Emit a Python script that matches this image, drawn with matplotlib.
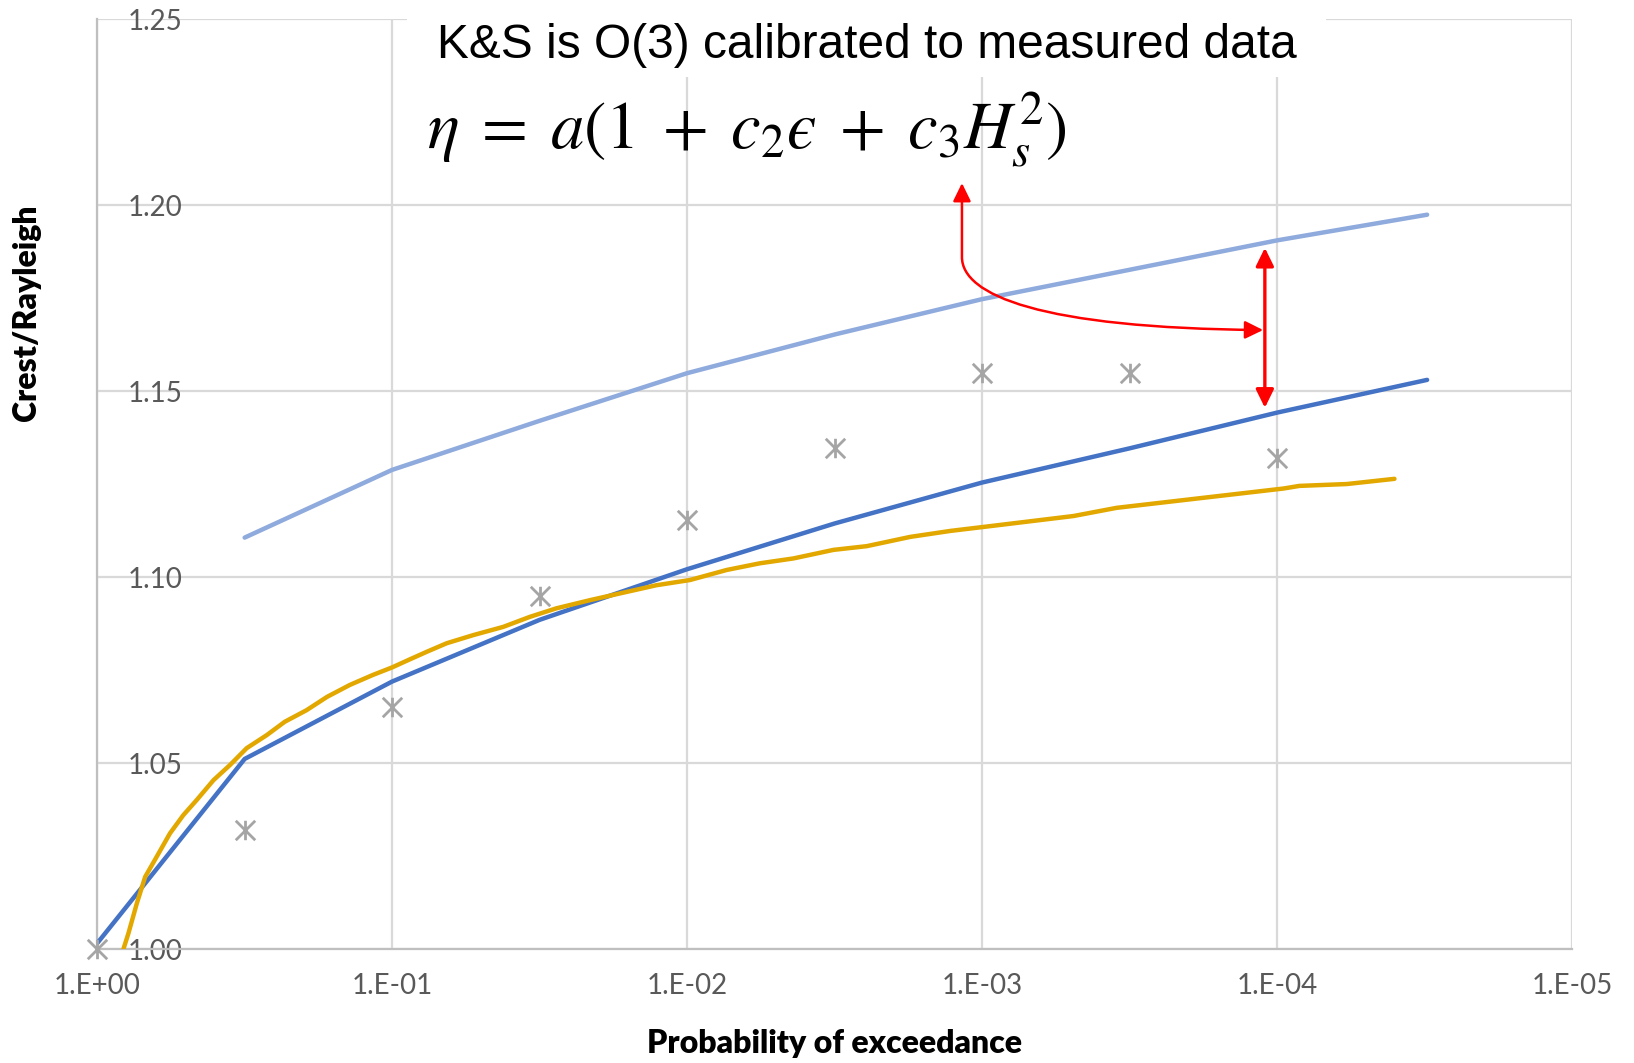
import numpy as np
import matplotlib
matplotlib.use("Agg")
import matplotlib.pyplot as plt
from matplotlib.path import Path
from matplotlib.patches import FancyArrowPatch, Rectangle
from matplotlib.ticker import FixedLocator, FuncFormatter, NullLocator

plt.rcParams['mathtext.fontset'] = 'stix'

# probability of exceedance (half decades) for the model curves / measured points
p_half = [1.0, 3.16e-1, 1e-1, 3.16e-2, 1e-2, 3.16e-3, 1e-3, 3.16e-4, 1e-4, 3.1e-5]

# upper (light blue) curve, starts at 10^-0.5
upper_p = p_half[1:]
upper_v = [1.1106, 1.1288, 1.1420, 1.1548, 1.1652, 1.1747, 1.1826, 1.1905, 1.1974]

# K&S calibrated (dark blue)
ks_p = p_half
ks_v = [1.0015, 1.0511, 1.0719, 1.0885, 1.1021, 1.1144, 1.1254, 1.1346, 1.1442, 1.1530]

# measured distribution (gold)
meas_p = [0.814, 0.783, 0.733, 0.687, 0.628, 0.566, 0.510, 0.459, 0.403, 0.354,
          0.311, 0.266, 0.231, 0.195, 0.166, 0.139, 0.116, 0.100, 0.0869, 0.0763,
          0.0653, 0.0530, 0.0420, 0.0341, 0.0277, 0.0213, 0.0127, 0.00977, 0.00734,
          0.00566, 0.00436, 0.00319, 0.00246, 0.00175, 0.00128, 0.00087, 0.00049,
          0.00035, 9.5e-5, 8.4e-5, 5.8e-5, 4.0e-5]
meas_v = [1.000, 1.0042, 1.0123, 1.0194, 1.0248, 1.0311, 1.0360, 1.0401, 1.0454, 1.0495,
          1.0540, 1.0575, 1.0611, 1.0642, 1.0678, 1.0710, 1.0737, 1.0757, 1.0779, 1.0799,
          1.0822, 1.0844, 1.0866, 1.0893, 1.0916, 1.0938, 1.0978, 1.0992, 1.1019,
          1.1037, 1.1050, 1.1073, 1.1083, 1.1108, 1.1124, 1.1140, 1.1164,
          1.1186, 1.1238, 1.1245, 1.1250, 1.1264]

# scatter points (grey stars)
pts_p = p_half[:-1]
pts_v = [1.000, 1.032, 1.065, 1.095, 1.1153, 1.1346, 1.1548, 1.1548, 1.1319]

x_ticks = [1, 1e-1, 1e-2, 1e-3, 1e-4, 1e-5]
y_ticks = [1.00, 1.05, 1.10, 1.15, 1.20, 1.25]

fig = plt.figure(figsize=(16.34, 10.63), dpi=100)
ax = fig.add_axes([0.0594, 0.1072, 0.9027, 0.8749])

ax.set_xscale('log')
ax.set_xlim(1, 1e-5)
ax.set_ylim(1.0, 1.25)

ax.plot(upper_p, upper_v, color='#8FAADC', lw=3.2, solid_capstyle='round', zorder=3)
ax.plot(ks_p, ks_v, color='#4472C4', lw=3.2, solid_capstyle='round', zorder=3)
ax.plot(meas_p, meas_v, color='#E2A800', lw=3.2, solid_capstyle='round', zorder=4)

star = Path([(-1, -1), (1, 1), (-1, 1), (1, -1), (0, -1), (0, 1)],
            [Path.MOVETO, Path.LINETO, Path.MOVETO, Path.LINETO, Path.MOVETO, Path.LINETO])
ax.plot(pts_p, pts_v, ls='none', marker=star, ms=14, mew=2.0, color='#A5A5A5',
        clip_on=False, zorder=5)

# axes styling
ax.xaxis.set_major_locator(FixedLocator(x_ticks))
ax.xaxis.set_minor_locator(NullLocator())
ax.xaxis.set_major_formatter(FuncFormatter(lambda v, pos: "1.E%+03d" % int(round(np.log10(v)))))
ax.set_yticks(y_ticks)
ax.yaxis.set_major_formatter(FuncFormatter(lambda v, pos: "%.2f" % v))
ax.grid(True, color='#D9D9D9', lw=1.6)
ax.set_axisbelow(True)
for s in ['top', 'right']:
    ax.spines[s].set_visible(False)
for s in ['left', 'bottom']:
    ax.spines[s].set_color('#BFBFBF')
    ax.spines[s].set_linewidth(1.6)

ax.tick_params(axis='x', length=0, pad=17, labelsize=20, labelcolor='#595959')
ax.tick_params(axis='y', length=0, pad=-22, labelsize=20, labelcolor='#595959')
for lab in ax.get_xticklabels() + ax.get_yticklabels():
    lab.set_family('Lato')
for lab in ax.get_yticklabels():
    lab.set_horizontalalignment('left')
    lab.set_zorder(2)

ax.set_xlabel('Probability of exceedance', fontsize=23, fontweight='heavy', family='Lato')
ax.xaxis.set_label_coords(0.5, -0.102)
ax.xaxis.label.set_va('center')
ax.set_ylabel('Crest/Rayleigh', fontsize=23, fontweight='heavy', family='Lato')
ax.yaxis.set_label_coords(-0.048, 0.684)
ax.yaxis.label.set_va('center')

# white box behind the title
fig.patches.append(Rectangle((407 / 1634, 1 - 77 / 1063), (1326 - 407) / 1634, 77 / 1063,
                             transform=fig.transFigure, facecolor='white',
                             edgecolor='none', zorder=1))
fig.text(0.5306, 0.9454, 'K&S is O(3) calibrated to measured data', fontsize=34.5,
         family='Liberation Sans', ha='center', va='baseline', zorder=3)
fig.text(0.457, 0.860, '$\\eta\\;=\\;a(1\\;+\\;c_2\u03f5\\;+\\;c_3 H_s^2)$', fontsize=48,
         ha='center', va='baseline', zorder=3)

# red arrows
ax.annotate('', xy=(1.1e-4, 1.1455), xytext=(1.1e-4, 1.1885),
            arrowprops=dict(arrowstyle='<|-|>,head_length=0.55,head_width=0.27',
                            color='#FF0000', lw=2.4, shrinkA=0, shrinkB=0,
                            mutation_scale=20))
curve = Path([(1.17e-3, 1.2059), (1.17e-3, 1.1860), (1.17e-3, 1.1758),
              (6.36e-4, 1.1669), (1.115e-4, 1.1664)],
             [Path.MOVETO, Path.LINETO, Path.CURVE4, Path.CURVE4, Path.CURVE4])
arr = FancyArrowPatch(path=curve, arrowstyle='<|-|>,head_length=0.55,head_width=0.27',
                      color='#FF0000', lw=1.8, mutation_scale=20,
                      transform=ax.transData, clip_on=False, zorder=6)
ax.add_patch(arr)

fig.savefig('out.png', dpi=100)
